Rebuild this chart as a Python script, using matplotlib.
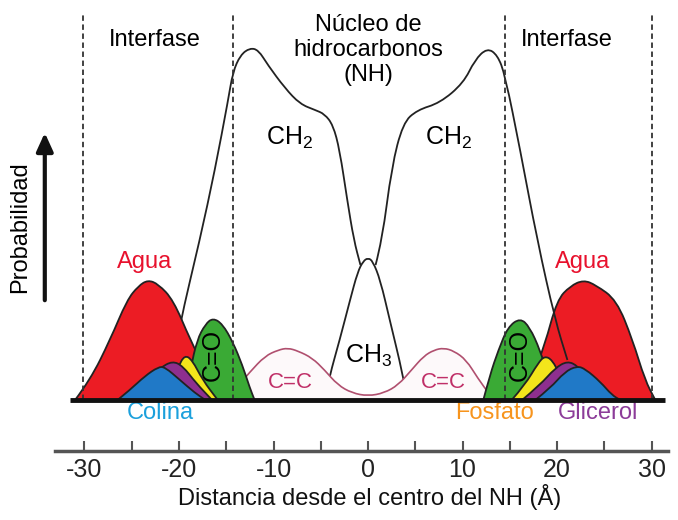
import matplotlib
matplotlib.use("Agg")
import matplotlib.pyplot as plt
from matplotlib.path import Path
from matplotlib.patches import PathPatch

plt.rcParams["font.family"] = ["Liberation Sans", "DejaVu Sans"]
plt.rcParams["mathtext.fontset"] = "custom"
plt.rcParams["mathtext.rm"] = "Liberation Sans"

# distance from centre of the hydrocarbon core (Å) and relative probability
agua_l_x = [-31.0, -29.4, -27.3, -25.5, -24.3, -23.3, -22.2, -20.6, -18.8, -17.2, -15.6, -14.4]
agua_l_y = [0, 20, 60, 100, 114, 120, 116, 100, 60, 30, 10, 0]
agua_r_x = [15.6, 17.1, 18.7, 20.0, 21.4, 22.8, 24.1, 26.3, 28.0, 29.3, 30.4]
agua_r_y = [0, 15, 55, 100, 114, 120, 115, 100, 60, 20, 0]

co_l_x = [-19.4, -18.8, -18.1, -17.2, -16.4, -15.4, -14.3, -13.3, -12.5, -12.0]
co_l_y = [0, 30, 60, 76, 82, 76, 58, 35, 12, 0]
co_r_x = [12.2, 12.9, 13.8, 14.8, 16.1, 17.1, 18.2, 19.0, 19.6]
co_r_y = [0, 25, 50, 73, 82, 73, 50, 25, 0]

fosfato_l_x = [-21.5, -20.1, -19.4, -18.6, -17.5, -15.9]
fosfato_l_y = [0, 33, 45, 40, 20, 0]
fosfato_r_x = [15.2, 16.6, 18.0, 18.7, 19.5, 20.3, 21.4]
fosfato_r_y = [0, 15, 37, 44, 40, 25, 0]

glicerol_l_x = [-26.2, -24.1, -22.0, -20.7, -19.6, -18.2, -16.5]
glicerol_l_y = [0, 15, 32, 39, 34, 17, 0]
glicerol_r_x = [16.3, 18.2, 19.8, 21.1, 22.2, 23.5, 24.6]
glicerol_r_y = [0, 15, 32, 39, 34, 20, 0]

colina_l_x = [-26.5, -25.2, -23.6, -22.2, -21.5, -19.9, -18.3, -17.2]
colina_l_y = [0, 10, 24, 33, 33, 20, 7, 0]
colina_r_x = [17.7, 19.3, 20.8, 22.1, 23.0, 24.6, 25.8, 26.7]
colina_r_y = [0, 12, 28, 34, 31, 18, 5, 0]

ch2_l_x = [-21.5, -19.9, -17.8, -16.2, -14.8, -14.3, -13.5, -12.5, -11.6, -10.6,
           -8.8, -7.2, -5.6, -4.6, -3.7, -3.0, -2.2, -1.5, -0.8]
ch2_l_y = [0, 77, 160, 230, 300, 328, 345, 352, 350, 335,
           312, 296, 290, 286, 275, 250, 200, 160, 135]
ch2_r_x = [0.8, 1.5, 2.5, 3.7, 5.2, 7.6, 10.1, 11.3, 12.6, 13.7, 14.5, 16.1, 17.9, 19.8, 21.1]
ch2_r_y = [135, 160, 233, 277, 290, 297, 317, 340, 352, 345, 325, 250, 160, 80, 40]

ch3_x = [-4.6, -4.1, -3.0, -1.9, -1.1, -0.5, 0, 0.5, 1.3, 2.3, 3.7, 4.1]
ch3_y = [0, 23, 60, 100, 128, 139, 142, 139, 120, 80, 25, 0]

cc_x = [-15.4, -14.1, -12.5, -10.9, -9.5, -8.5, -7.4, -5.9, -4.6, -3.2, -1.7, 0,
        1.7, 3.2, 4.6, 5.9, 7.0, 8.0, 9.1, 10.4, 11.6, 12.9, 13.4]
cc_y = [0, 10, 28, 44, 50, 52, 49, 42, 30, 15, 7, 4,
        7, 15, 30, 44, 50, 52, 49, 40, 22, 5, 0]

interfase_x = [-30.2, -14.3, 14.5, 30.1]
ticks = [-30, -25, -20, -15, -10, -5, 0, 5, 10, 15, 20, 25, 30]
tick_labels = ["-30", "", "-20", "", "-10", "", "0", "", "10", "", "20", "", "30"]


def smooth_path(xs, ys, closed=False):
    # quadratic bezier through midpoints, read points used as control points
    pts = list(zip(xs, ys))
    verts = [pts[0]]
    codes = [Path.MOVETO]
    for i in range(1, len(pts) - 1):
        mid = ((pts[i][0] + pts[i + 1][0]) / 2, (pts[i][1] + pts[i + 1][1]) / 2)
        verts += [pts[i], mid]
        codes += [Path.CURVE3, Path.CURVE3]
    verts.append(pts[-1])
    codes.append(Path.LINETO)
    if closed:
        verts.append(pts[0])
        codes.append(Path.CLOSEPOLY)
    return Path(verts, codes)


fig = plt.figure(figsize=(6.78, 5.2), dpi=100)
ax = fig.add_axes([0, 0, 1, 1])
ax.set_xlim(-38.94, 32.80)
ax.set_ylim(-120, 400)

edge = "#222222"
ax.add_patch(PathPatch(smooth_path(ch2_l_x, ch2_l_y), fill=False, edgecolor=edge, lw=1.3, zorder=1))
ax.add_patch(PathPatch(smooth_path(ch3_x, ch3_y), fill=False, edgecolor=edge, lw=1.3, zorder=1))
ax.add_patch(PathPatch(smooth_path(cc_x, cc_y, closed=True), facecolor="#fdf9fa",
                       edgecolor="#b0506f", lw=1.2, zorder=2))

for xs, ys, col in [(agua_l_x, agua_l_y, "#ec1c24"), (agua_r_x, agua_r_y, "#ec1c24"),
                    (co_l_x, co_l_y, "#3aaa35"), (co_r_x, co_r_y, "#3aaa35"),
                    (fosfato_l_x, fosfato_l_y, "#f3e51b"), (fosfato_r_x, fosfato_r_y, "#f3e51b"),
                    (glicerol_l_x, glicerol_l_y, "#8e2f8f"), (glicerol_r_x, glicerol_r_y, "#8e2f8f"),
                    (colina_l_x, colina_l_y, "#2079c7"), (colina_r_x, colina_r_y, "#2079c7")]:
    ax.add_patch(PathPatch(smooth_path(xs, ys, closed=True), facecolor=col,
                           edgecolor=edge, lw=1.3, zorder=3))

ax.add_patch(PathPatch(smooth_path(ch2_r_x, ch2_r_y), fill=False, edgecolor=edge, lw=1.3, zorder=4))

for xv in interfase_x:
    ax.plot([xv, xv], [0, 385], color="#333333", lw=1.3, ls=(0, (3, 2)), zorder=5)

ax.plot([-31.5, 31.4], [0, 0], color="#111111", lw=3.5, zorder=6, solid_capstyle="butt")

# x axis below the plot
for s in ["top", "left", "right"]:
    ax.spines[s].set_visible(False)
ax.spines["bottom"].set_position(("data", -51))
ax.spines["bottom"].set_bounds(-33.1, 31.7)
ax.spines["bottom"].set_linewidth(2.5)
ax.spines["bottom"].set_color("#555555")
ax.set_xticks(ticks)
ax.set_xticklabels(tick_labels, fontsize=18, color="#222222")
ax.tick_params(axis="x", direction="in", length=7, width=1.5, color="#555555", pad=5)
ax.set_yticks([])

ax.text(0.15, -97, "Distancia desde el centro del NH (Å)", fontsize=17,
        ha="center", va="center", color="#111111")

# labels
fs = 17
ax.text(-22.6, 360, "Interfase", fontsize=fs, ha="center", va="center")
ax.text(21.0, 360, "Interfase", fontsize=fs, ha="center", va="center")
ax.text(0, 350, "Núcleo de\nhidrocarbonos\n(NH)", fontsize=fs, ha="center", va="center",
        linespacing=1.15)
ax.text(-8.3, 262, r"CH$_\mathrm{2}$", fontsize=18, ha="center", va="center")
ax.text(8.5, 262, r"CH$_\mathrm{2}$", fontsize=18, ha="center", va="center")
ax.text(0.1, 44, r"CH$_\mathrm{3}$", fontsize=18, ha="center", va="center")
ax.text(-8.2, 18, "C=C", fontsize=16, ha="center", va="center", color="#c03068", zorder=7)
ax.text(8.0, 18, "C=C", fontsize=16, ha="center", va="center", color="#c03068", zorder=7)
ax.text(-16.4, 45, "C=O", fontsize=18, ha="center", va="center", rotation=90, zorder=7)
ax.text(16.1, 45, "C=O", fontsize=18, ha="center", va="center", rotation=90, zorder=7)
ax.text(-23.6, 138, "Agua", fontsize=fs, ha="center", va="center", color="#e8112d")
ax.text(22.7, 138, "Agua", fontsize=fs, ha="center", va="center", color="#e8112d")
ax.text(-22.0, -13, "Colina", fontsize=fs, ha="center", va="center", color="#1ba0dc")
ax.text(13.4, -13, "Fosfato", fontsize=fs, ha="center", va="center", color="#f7941d")
ax.text(24.3, -13, "Glicerol", fontsize=fs, ha="center", va="center", color="#8c3c99")

ax.text(-36.8, 173, "Probabilidad", fontsize=fs, ha="center", va="center", rotation=90)
ax.annotate("", xy=(-34.2, 270), xytext=(-34.2, 97),
            arrowprops=dict(arrowstyle="-|>,head_length=1.1,head_width=0.5",
                            color="#111111", lw=3))

fig.savefig("out.png", dpi=100)
